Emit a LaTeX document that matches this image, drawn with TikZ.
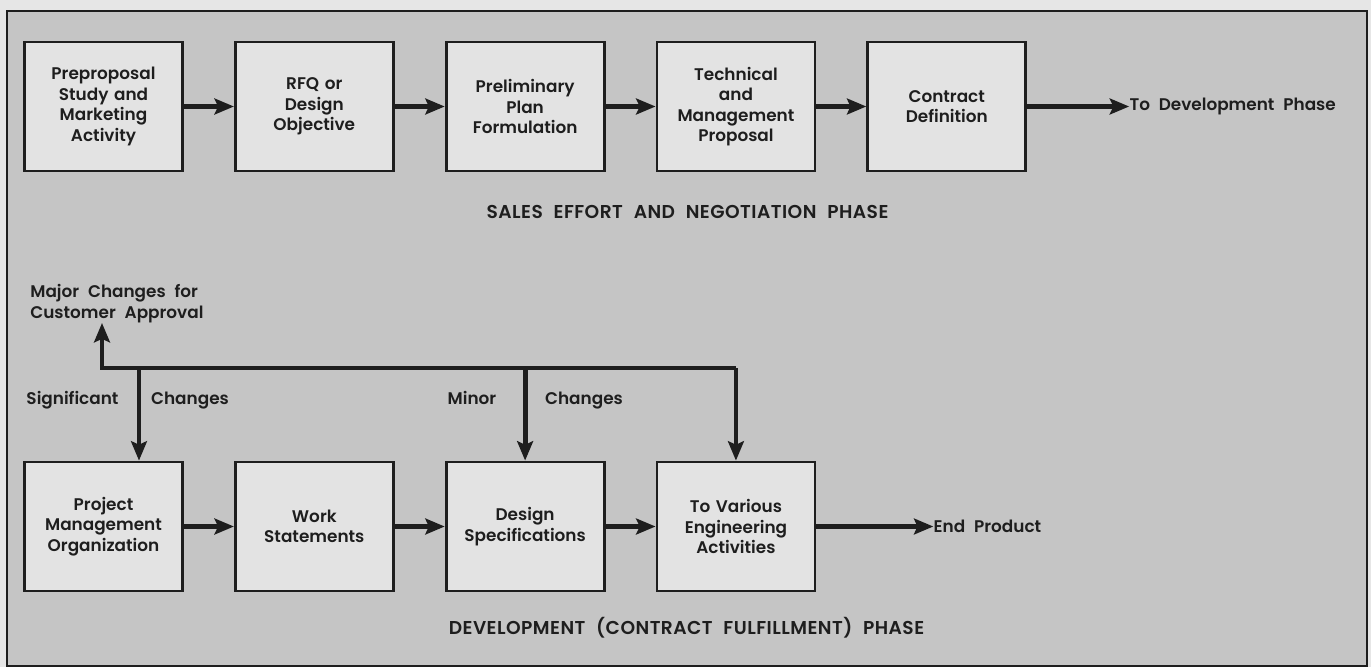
\documentclass[tikz,border=0pt]{standalone}
\usepackage{fontspec}
\setmainfont{Poppins}[UprightFont={* SemiBold},WordSpace=2.2]
\usetikzlibrary{positioning,arrows.meta}
\definecolor{paper}{HTML}{E6E6E6}
\definecolor{panel}{HTML}{C5C5C5}
\definecolor{boxfill}{HTML}{E3E3E3}
\definecolor{ink}{HTML}{1E1E1E}
\tikzset{
    stagebox/.style={draw=ink,line width=1.6pt,fill=boxfill,minimum width=3.16cm,minimum height=2.58cm,
        text width=3cm,align=center,inner sep=0pt,text=ink,font=\fontsize{9.6}{11.6}\selectfont},
    note/.style={text=ink,inner sep=0pt,font=\fontsize{9.6}{11.5}\selectfont},
    phase/.style={text=ink,inner sep=0pt,font=\fontsize{10.6}{12}\selectfont\addfontfeatures{LetterSpace=2.5}},
    flow/.style={draw=ink,line width=2.7pt,line join=miter,-{Stealth[length=11pt,width=9pt,inset=2pt]}}
}
\begin{document}
\begin{tikzpicture}[node distance=1cm]
            \fill[paper] (0,0) rectangle (27.42,-13.34);
            \useasboundingbox (0,0) rectangle (27.42,-13.34);
            \draw[ink,line width=1.4pt,fill=panel] (0.14,-0.22) rectangle (27.34,-13.32);
            % sales effort
            \node[stagebox] (prep) at (2.07,-2.13) {Preproposal\\Study and\\Marketing\\Activity};
            \node[stagebox,right=of prep] (rfq) {RFQ or\\Design\\Objective};
            \node[stagebox,right=of rfq] (plan) {Preliminary\\Plan\\Formulation};
            \node[stagebox,right=of plan] (prop) {Technical\\and\\Management\\Proposal};
            \node[stagebox,right=of prop] (contract) {Contract\\Definition};
            \node[note,right=2.04cm of contract] (todev) {To Development Phase};
            \node[phase] (sales) at (13.75,-4.24) {SALES EFFORT AND NEGOTIATION PHASE};
            \draw[flow] (prep) -- (rfq);
            \draw[flow] (rfq) -- (plan);
            \draw[flow] (plan) -- (prop);
            \draw[flow] (prop) -- (contract);
            \draw[flow] (contract) -- (todev);
            % development
            \node[stagebox] (pmo) at (2.07,-10.53) {Project\\Management\\Organization};
            \node[stagebox,right=of pmo] (work) {Work\\Statements};
            \node[stagebox,right=of work] (spec) {Design\\Specifications};
            \node[stagebox,right=of spec] (eng) {To Various\\Engineering\\Activities};
            \node[note,right=2.34cm of eng] (endprod) {End Product};
            \node[phase] (devel) at (13.73,-12.56) {DEVELOPMENT (CONTRACT FULFILLMENT) PHASE};
            \draw[flow] (pmo) -- (work);
            \draw[flow] (work) -- (spec);
            \draw[flow] (spec) -- (eng);
            \draw[flow] (eng) -- (endprod);
            % changes
            \coordinate (bus) at (2.04,-7.36);
            \coordinate (drop) at (2.78,-7.36);
            \node[note,align=left,anchor=south west] (major) at (0.6,-6.46) {Major Changes for\\Customer Approval};
            \draw[flow] (bus -| eng.north) -- (bus) -- (bus |- major.south);
            \draw[flow] (drop) -- (drop |- pmo.north);
            \draw[flow] (bus -| spec.north) -- (spec.north);
            \draw[flow] (bus -| eng.north) -- (eng.north);
            \node[note,anchor=base] (signif) at (1.45,-8.08) {Significant};
            \node[note,anchor=base] (chg1) at (3.8,-8.08) {Changes};
            \node[note,anchor=base] (minor) at (9.44,-8.08) {Minor};
            \node[note,anchor=base] (chg2) at (11.68,-8.08) {Changes};
\end{tikzpicture}
\end{document}
